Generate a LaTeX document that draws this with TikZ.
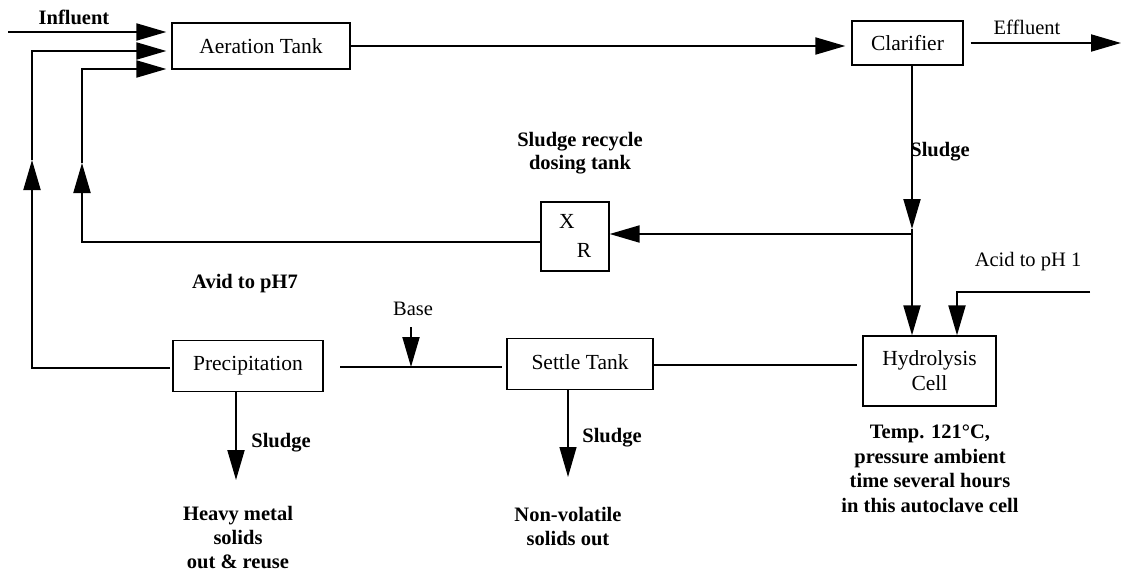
\documentclass[tikz,border=0pt]{standalone}
\usepackage{fontspec}
\setmainfont{Liberation Serif}
\usetikzlibrary{arrows.meta}
\begin{document}
\begin{tikzpicture}[x=1pt,y=-1pt,
  box/.style={draw,line width=1.3pt,inner sep=0pt,align=center,font=\fontsize{21.5}{25}\selectfont},
  lbl/.style={inner sep=0pt,align=center,font=\fontsize{20.5}{24.5}\selectfont},
  blbl/.style={inner sep=0pt,align=center,font=\fontsize{20.5}{24}\selectfont\bfseries},
  flow/.style={line width=2pt},
  arr/.style={flow,-{Triangle[length=30pt,width=17pt]}},
  tarr/.style={line width=1.3pt,-{Triangle[length=30pt,width=17pt]}},
]
\useasboundingbox (0,0) rectangle (1123,575);

% boxes
\node[box,minimum width=178pt,minimum height=46pt] (aer) at (261,46) {Aeration Tank};
\node[box,minimum width=111pt,minimum height=44pt] (clar) at (907.5,43) {Clarifier};
\node[box,minimum width=68pt,minimum height=69pt] (xr) at (575,236.5) {};
\node[lbl,font=\fontsize{21.5}{25}\selectfont] (xlab) at (567,221) {X};
\node[lbl,font=\fontsize{21.5}{25}\selectfont] (rlab) at (584,250) {R};
\node[box,minimum width=150pt,minimum height=51pt] (prec) at (248,366) {\raisebox{4pt}{Precipitation}};
\node[box,minimum width=146pt,minimum height=51pt] (settle) at (580,364) {\raisebox{4pt}{Settle Tank}};
\node[box,minimum width=133pt,minimum height=70pt] (hyd) at (929.5,371) {Hydrolysis\\Cell};

% coordinates
\coordinate (inf) at (8,32);
\coordinate (j) at (912,234);
\coordinate (cj) at (912,229);
\coordinate (acid) at (1090,292);
\coordinate (acidc) at (957,292);
\coordinate (pl) at (170,368);
\coordinate (lc) at (32,368);
\coordinate (lm) at (32,160);
\coordinate (lt) at (32,51);
\coordinate (xl) at (82,242);
\coordinate (xm) at (82,163);
\coordinate (xt) at (82,69);
\coordinate (b1) at (340,367);
\coordinate (b2) at (502,367);
\coordinate (bt) at (411,327);
\coordinate (s1) at (653,365);
\coordinate (s2) at (857,365);
\coordinate (eff) at (1121,43);
\coordinate (pb) at (236,480);
\coordinate (sb) at (568,477);

% connectors
\draw[arr] (inf) -- ([xshift=-5pt]aer.west |- inf);
\draw[arr] (pl) -- (lc) -- (lm);
\draw[arr] (lm) -- (lt) -- ([xshift=-5pt]aer.west |- lt);
\draw[arr] (xr.west |- xl) -- (xl) -- (xm);
\draw[arr] (xm) -- (xt) -- ([xshift=-5pt]aer.west |- xt);
\draw[arr] (aer.east) -- ([xshift=-6pt]clar.west |- aer.east);
\draw[arr] ([xshift=7pt]clar.east) -- (eff);
\draw[arr] (clar.south -| j) -- (cj);
\draw[flow] (cj) -- (j);
\draw[arr] (j) -- (xr.east |- j);
\draw[arr] (j) -- (hyd.north -| j);
\draw[arr] (acid) -- (acidc) -- (hyd.north -| acidc);
\draw[flow] (b1) -- (b2);
\draw[arr] (bt) -- (bt |- b1);
\draw[flow] (s1) -- (s2);
\draw[arr] (prec.south -| pb) -- (pb);
\draw[tarr] (settle.south -| sb) -- (sb);

% labels
\node[blbl] (linf) at (74,17) {Influent};
\node[lbl] (leff) at (1027,27) {Effluent};
\node[blbl,font=\fontsize{20.5}{23}\selectfont\bfseries] (lrec) at (580,153.5) {Sludge recycle\\dosing tank};
\node[blbl] (lsl1) at (940,152) {Sludge};
\node[lbl] (lacid) at (1028,262) {Acid to pH 1};
\node[blbl] (lavid) at (245,284) {Avid to pH7};
\node[lbl] (lbase) at (413,309) {Base};
\node[blbl] (lsl2) at (281,443) {Sludge};
\node[blbl] (lsl3) at (612,438) {Sludge};
\node[blbl] (lheavy) at (238,538) {Heavy metal\\solids\\out \& reuse};
\node[blbl] (lnon) at (568,527) {Non-volatile\\solids out};
\node[blbl,font=\fontsize{20.5}{24.5}\selectfont\bfseries] (ltemp) at (930,469) {Temp. 121°C,\\pressure ambient\\time several hours\\in this autoclave cell};
\end{tikzpicture}
\end{document}
